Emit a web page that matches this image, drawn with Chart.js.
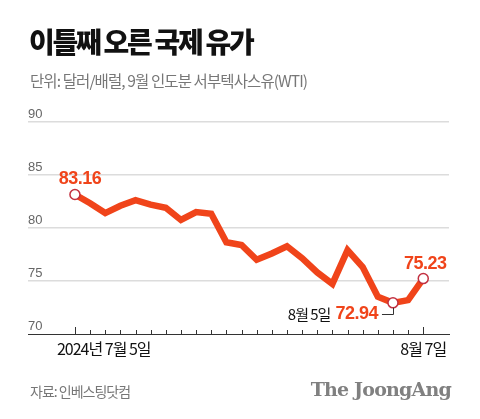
<!DOCTYPE html>
<html>
<head>
<meta charset="utf-8">
<script src="https://cdn.jsdelivr.net/npm/chart.js@4"></script>
<style>
  html, body { margin: 0; padding: 0; background: #fff; }
  #wrap { position: relative; width: 480px; height: 419px; overflow: hidden; }
  #myChart { position: absolute; left: 0; top: 0; }
  .title { position: absolute; left: 29px; top: 21px; font: 900 28px "Noto Sans CJK KR"; letter-spacing: -2.3px; color: #111; }
  .sub { position: absolute; left: 30px; top: 69px; font: 15.5px "Noto Sans CJK KR"; letter-spacing: -0.9px; color: #777; }
  .src { position: absolute; left: 30px; top: 381px; font: 14px "Noto Sans CJK KR"; letter-spacing: -1px; color: #777; }
  .logo { position: absolute; right: 29px; top: 378px; font: bold 19px "DejaVu Serif"; letter-spacing: -0.8px; color: #808080; }
</style>
</head>
<body>
<div id="wrap">
  <canvas id="myChart" width="480" height="419"></canvas>
  <div class="title">이틀째 오른 국제 유가</div>
  <div class="sub">단위: 달러/배럴, 9월 인도분 서부텍사스유(WTI)</div>
  <div class="src">자료: 인베스팅닷컴</div>
  <div class="logo">The JoongAng</div>
</div>
<script>
    // trading days 2024-07-05 .. 2024-08-07
    const dates = ['7/5','7/8','7/9','7/10','7/11','7/12','7/15','7/16','7/17','7/18','7/19',
                   '7/22','7/23','7/24','7/25','7/26','7/29','7/30','7/31','8/1','8/2',
                   '8/5','8/6','8/7'];
    const prices = [83.16, 82.33, 81.41, 82.10, 82.62, 82.21, 81.91, 80.76, 81.50, 81.35, 78.65,
                    78.40, 77.00, 77.59, 78.28, 77.16, 75.81, 74.73, 77.91, 76.31, 73.52,
                    72.94, 73.20, 75.23];
    const yTicks = [70, 75, 80, 85, 90];
    const firstLabel = '2024년 7월 5일';
    const lastLabel = '8월 7일';
    const lowLabel = '8월 5일';

    const red = '#f0441a';
    const lowIdx = 21;
    const lastIdx = prices.length - 1;

    const points = prices.map((v, i) => ({ x: i, y: v }));

    // text, ticks and callouts drawn on top using the chart's scales
    const extras = {
        id: 'extras',
        afterDraw(chart) {
            const c = chart.ctx;
            const xs = chart.scales.x;
            const ys = chart.scales.y;
            const base = ys.getPixelForValue(70);
            c.save();
            // tick marks pointing up from the axis
            c.strokeStyle = '#333';
            c.lineWidth = 1;
            xs.ticks.forEach((t) => {
                const px = Math.round(xs.getPixelForValue(t.value)) + 0.5;
                const len = (t.value === 0 || t.value === lastIdx) ? 7 : 4;
                c.beginPath();
                c.moveTo(px, base);
                c.lineTo(px, base - len);
                c.stroke();
            });
            // x labels
            c.fillStyle = '#111';
            c.font = '16px "Noto Sans CJK KR"';
            c.textBaseline = 'middle';
            c.letterSpacing = '-1px';
            c.textAlign = 'left';
            c.fillText(firstLabel, xs.getPixelForValue(0) - 18, base + 15);
            c.textAlign = 'center';
            c.fillText(lastLabel, xs.getPixelForValue(lastIdx), base + 15);

            // value callouts
            c.fillStyle = red;
            c.font = 'bold 18px "Liberation Sans"';
            c.letterSpacing = '-0.5px';
            c.textAlign = 'center';
            c.fillText(prices[0].toFixed(2), xs.getPixelForValue(0) + 5, ys.getPixelForValue(prices[0]) - 15);
            c.fillText(prices[lastIdx].toFixed(2), xs.getPixelForValue(lastIdx) + 2, ys.getPixelForValue(prices[lastIdx]) - 15);

            const lx = xs.getPixelForValue(lowIdx);
            const ly = ys.getPixelForValue(prices[lowIdx]);
            c.textAlign = 'right';
            c.fillText(prices[lowIdx].toFixed(2), lx - 15, ly + 11);
            const w = c.measureText(prices[lowIdx].toFixed(2)).width;
            c.fillStyle = '#111';
            c.font = '15px "Noto Sans CJK KR"';
            c.letterSpacing = '-1px';
            c.fillText(lowLabel, lx - 15 - w - 5, ly + 11);
            // leader line
            c.strokeStyle = '#333';
            c.beginPath();
            c.moveTo(lx - 11, Math.round(ly + 11) + 0.5);
            c.lineTo(Math.round(lx) + 0.5, Math.round(ly + 11) + 0.5);
            c.lineTo(Math.round(lx) + 0.5, ly + 5);
            c.stroke();
            c.restore();
        }
    };

    const ctx = document.getElementById('myChart').getContext('2d');

    const myChart = new Chart(ctx, {
        type: 'line',
        data: {
            datasets: [{
                data: points,
                borderColor: red,
                borderWidth: 6.5,
                borderJoinStyle: 'miter',
                tension: 0,
                pointRadius: (c) => (c.dataIndex === 0 || c.dataIndex === lowIdx || c.dataIndex === lastIdx) ? 5 : 0,
                pointBackgroundColor: '#fff',
                pointBorderColor: '#c23040',
                pointBorderWidth: 1.5
            }]
        },
        options: {
            responsive: false,
            animation: false,
            events: [],
            layout: { padding: { left: 28, right: 31, top: 122, bottom: 77 } },
            plugins: { legend: { display: false }, tooltip: { enabled: false } },
            scales: {
                x: {
                    type: 'linear',
                    min: -3.1,
                    max: 24.7,
                    afterBuildTicks: (axis) => { axis.ticks = dates.map((d, i) => ({ value: i })); },
                    grid: { display: false },
                    border: { display: true, color: '#333', width: 1 },
                    ticks: { display: false }
                },
                y: {
                    min: 70,
                    max: 90,
                    afterBuildTicks: (axis) => { axis.ticks = yTicks.map((v) => ({ value: v })); },
                    grid: {
                        drawTicks: false,
                        color: (c) => c.tick && c.tick.value === 70 ? 'rgba(0,0,0,0)' : '#dcdcdc',
                        lineWidth: 1.5
                    },
                    border: { display: false },
                    ticks: {
                        mirror: true,
                        padding: 0,
                        labelOffset: -8,
                        color: '#666',
                        font: { family: 'Liberation Sans', size: 13 }
                    }
                }
            }
        },
        plugins: [extras]
    });
</script>
</body>
</html>
